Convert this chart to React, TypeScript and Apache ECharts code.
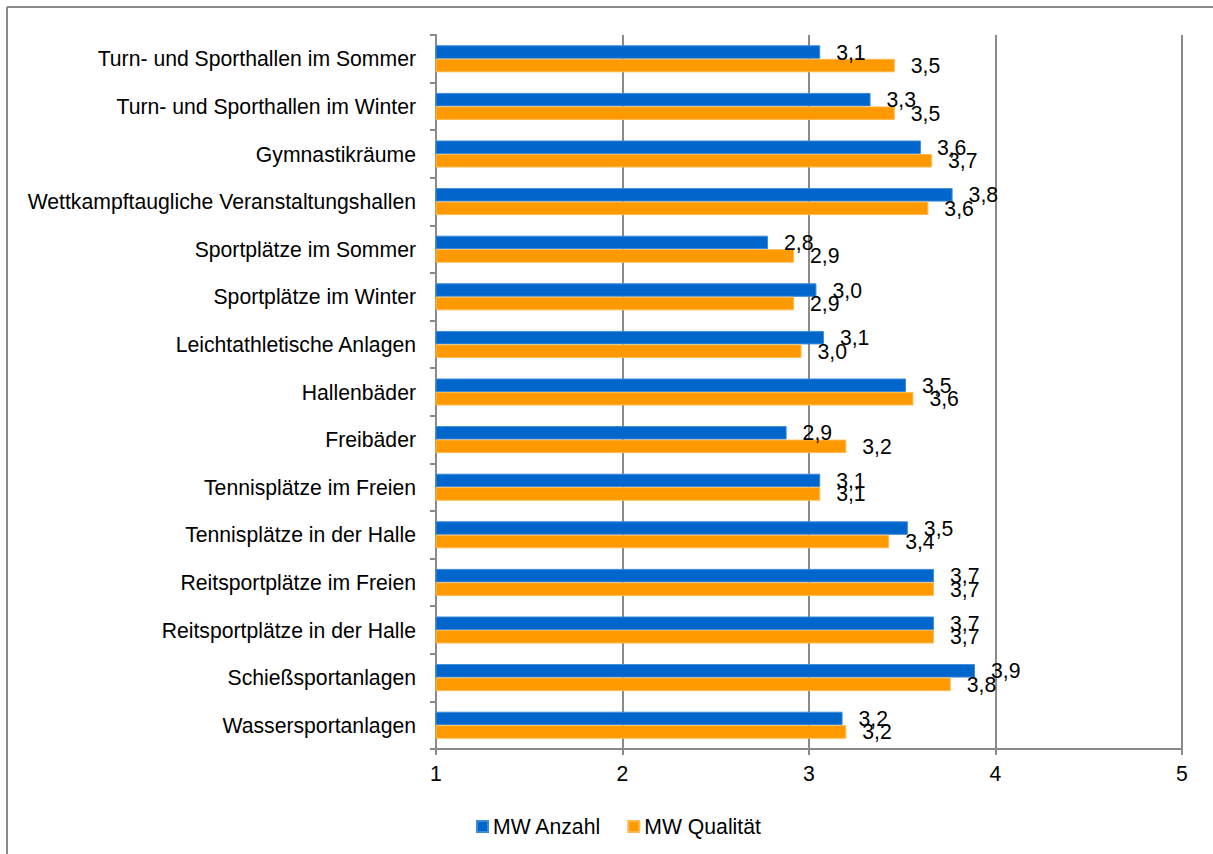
import React, { useEffect, useRef } from "react";
import * as echarts from "echarts";

const categories: string[] = [
  "Turn- und Sporthallen im Sommer",
  "Turn- und Sporthallen im Winter",
  "Gymnastikräume",
  "Wettkampftaugliche Veranstaltungshallen",
  "Sportplätze im Sommer",
  "Sportplätze im Winter",
  "Leichtathletische Anlagen",
  "Hallenbäder",
  "Freibäder",
  "Tennisplätze im Freien",
  "Tennisplätze in der Halle",
  "Reitsportplätze im Freien",
  "Reitsportplätze in der Halle",
  "Schießsportanlagen",
  "Wassersportanlagen",
];

const mwAnzahl: number[] = [3.06, 3.33, 3.6, 3.77, 2.78, 3.04, 3.08, 3.52, 2.88, 3.06, 3.53, 3.67, 3.67, 3.89, 3.18];
const mwQualitaet: number[] = [3.46, 3.46, 3.66, 3.64, 2.92, 2.92, 2.96, 3.56, 3.2, 3.06, 3.43, 3.67, 3.67, 3.76, 3.2];

const seriesNames: string[] = ["MW Anzahl", "MW Qualität"];
const xTicks: number[] = [1, 2, 3, 4, 5];

const FONT = "'Liberation Sans', Arial, sans-serif";
const GRAY = "#8a8a8a";
const FS = 21.2;

export default function App() {
  const ref = useRef<HTMLDivElement>(null);
  useEffect(() => {
    if (!ref.current) return;
    const chart = echarts.init(ref.current, undefined, { renderer: "svg" });
    const labelCfg = {
      show: true,
      position: "right",
      distance: 16,
      color: "#000",
      fontSize: FS,
      fontFamily: FONT,
      formatter: (p: any) => p.value.toFixed(1).replace(".", ","),
    };
    chart.setOption({
      animation: false,
      textStyle: { fontFamily: FONT },
      graphic: [
        { type: "line", shape: { x1: 7, y1: 7, x2: 1213, y2: 7 }, style: { stroke: GRAY, lineWidth: 2 } },
        { type: "line", shape: { x1: 7, y1: 7, x2: 7, y2: 854 }, style: { stroke: GRAY, lineWidth: 2 } },
      ],
      grid: { left: 436, right: 31, top: 35, bottom: 105, containLabel: false },
      legend: {
        data: seriesNames,
        left: 471,
        top: 811,
        itemWidth: 11,
        itemHeight: 11,
        itemGap: 26,
        icon: "rect",
        textStyle: { fontSize: FS, color: "#000", fontFamily: FONT },
      },
      xAxis: {
        type: "value",
        min: xTicks[0],
        max: xTicks[xTicks.length - 1],
        interval: 1,
        axisLine: { show: true, lineStyle: { color: GRAY, width: 2 } },
        axisTick: { show: true, length: 6, lineStyle: { color: GRAY, width: 2 } },
        splitLine: { show: true, lineStyle: { color: GRAY, width: 2 } },
        axisLabel: { color: "#000", fontSize: FS, fontFamily: FONT, margin: 14 },
      },
      yAxis: {
        type: "category",
        data: categories,
        inverse: true,
        axisLine: { show: true, lineStyle: { color: GRAY, width: 2 } },
        axisTick: { show: true, length: 6, alignWithLabel: false, lineStyle: { color: GRAY, width: 2 } },
        axisLabel: { color: "#000", fontSize: FS, fontFamily: FONT, margin: 20 },
        splitLine: { show: false },
      },
      series: [
        {
          name: seriesNames[0],
          type: "bar",
          data: mwAnzahl,
          barWidth: 13.5,
          barGap: "0%",
          itemStyle: { color: "#0066CC", borderColor: "#3d8ad6", borderWidth: 1 },
          label: labelCfg,
        },
        {
          name: seriesNames[1],
          type: "bar",
          data: mwQualitaet,
          barWidth: 13.5,
          barGap: "0%",
          itemStyle: { color: "#FF9900", borderColor: "#ffb84d", borderWidth: 1 },
          label: labelCfg,
        },
      ],
    });
    return () => chart.dispose();
  }, []);
  return (
    <div
      ref={ref}
      style={{ position: "absolute", left: 0, top: 0, width: 1213, height: 854, background: "#fff" }}
    />
  );
}
